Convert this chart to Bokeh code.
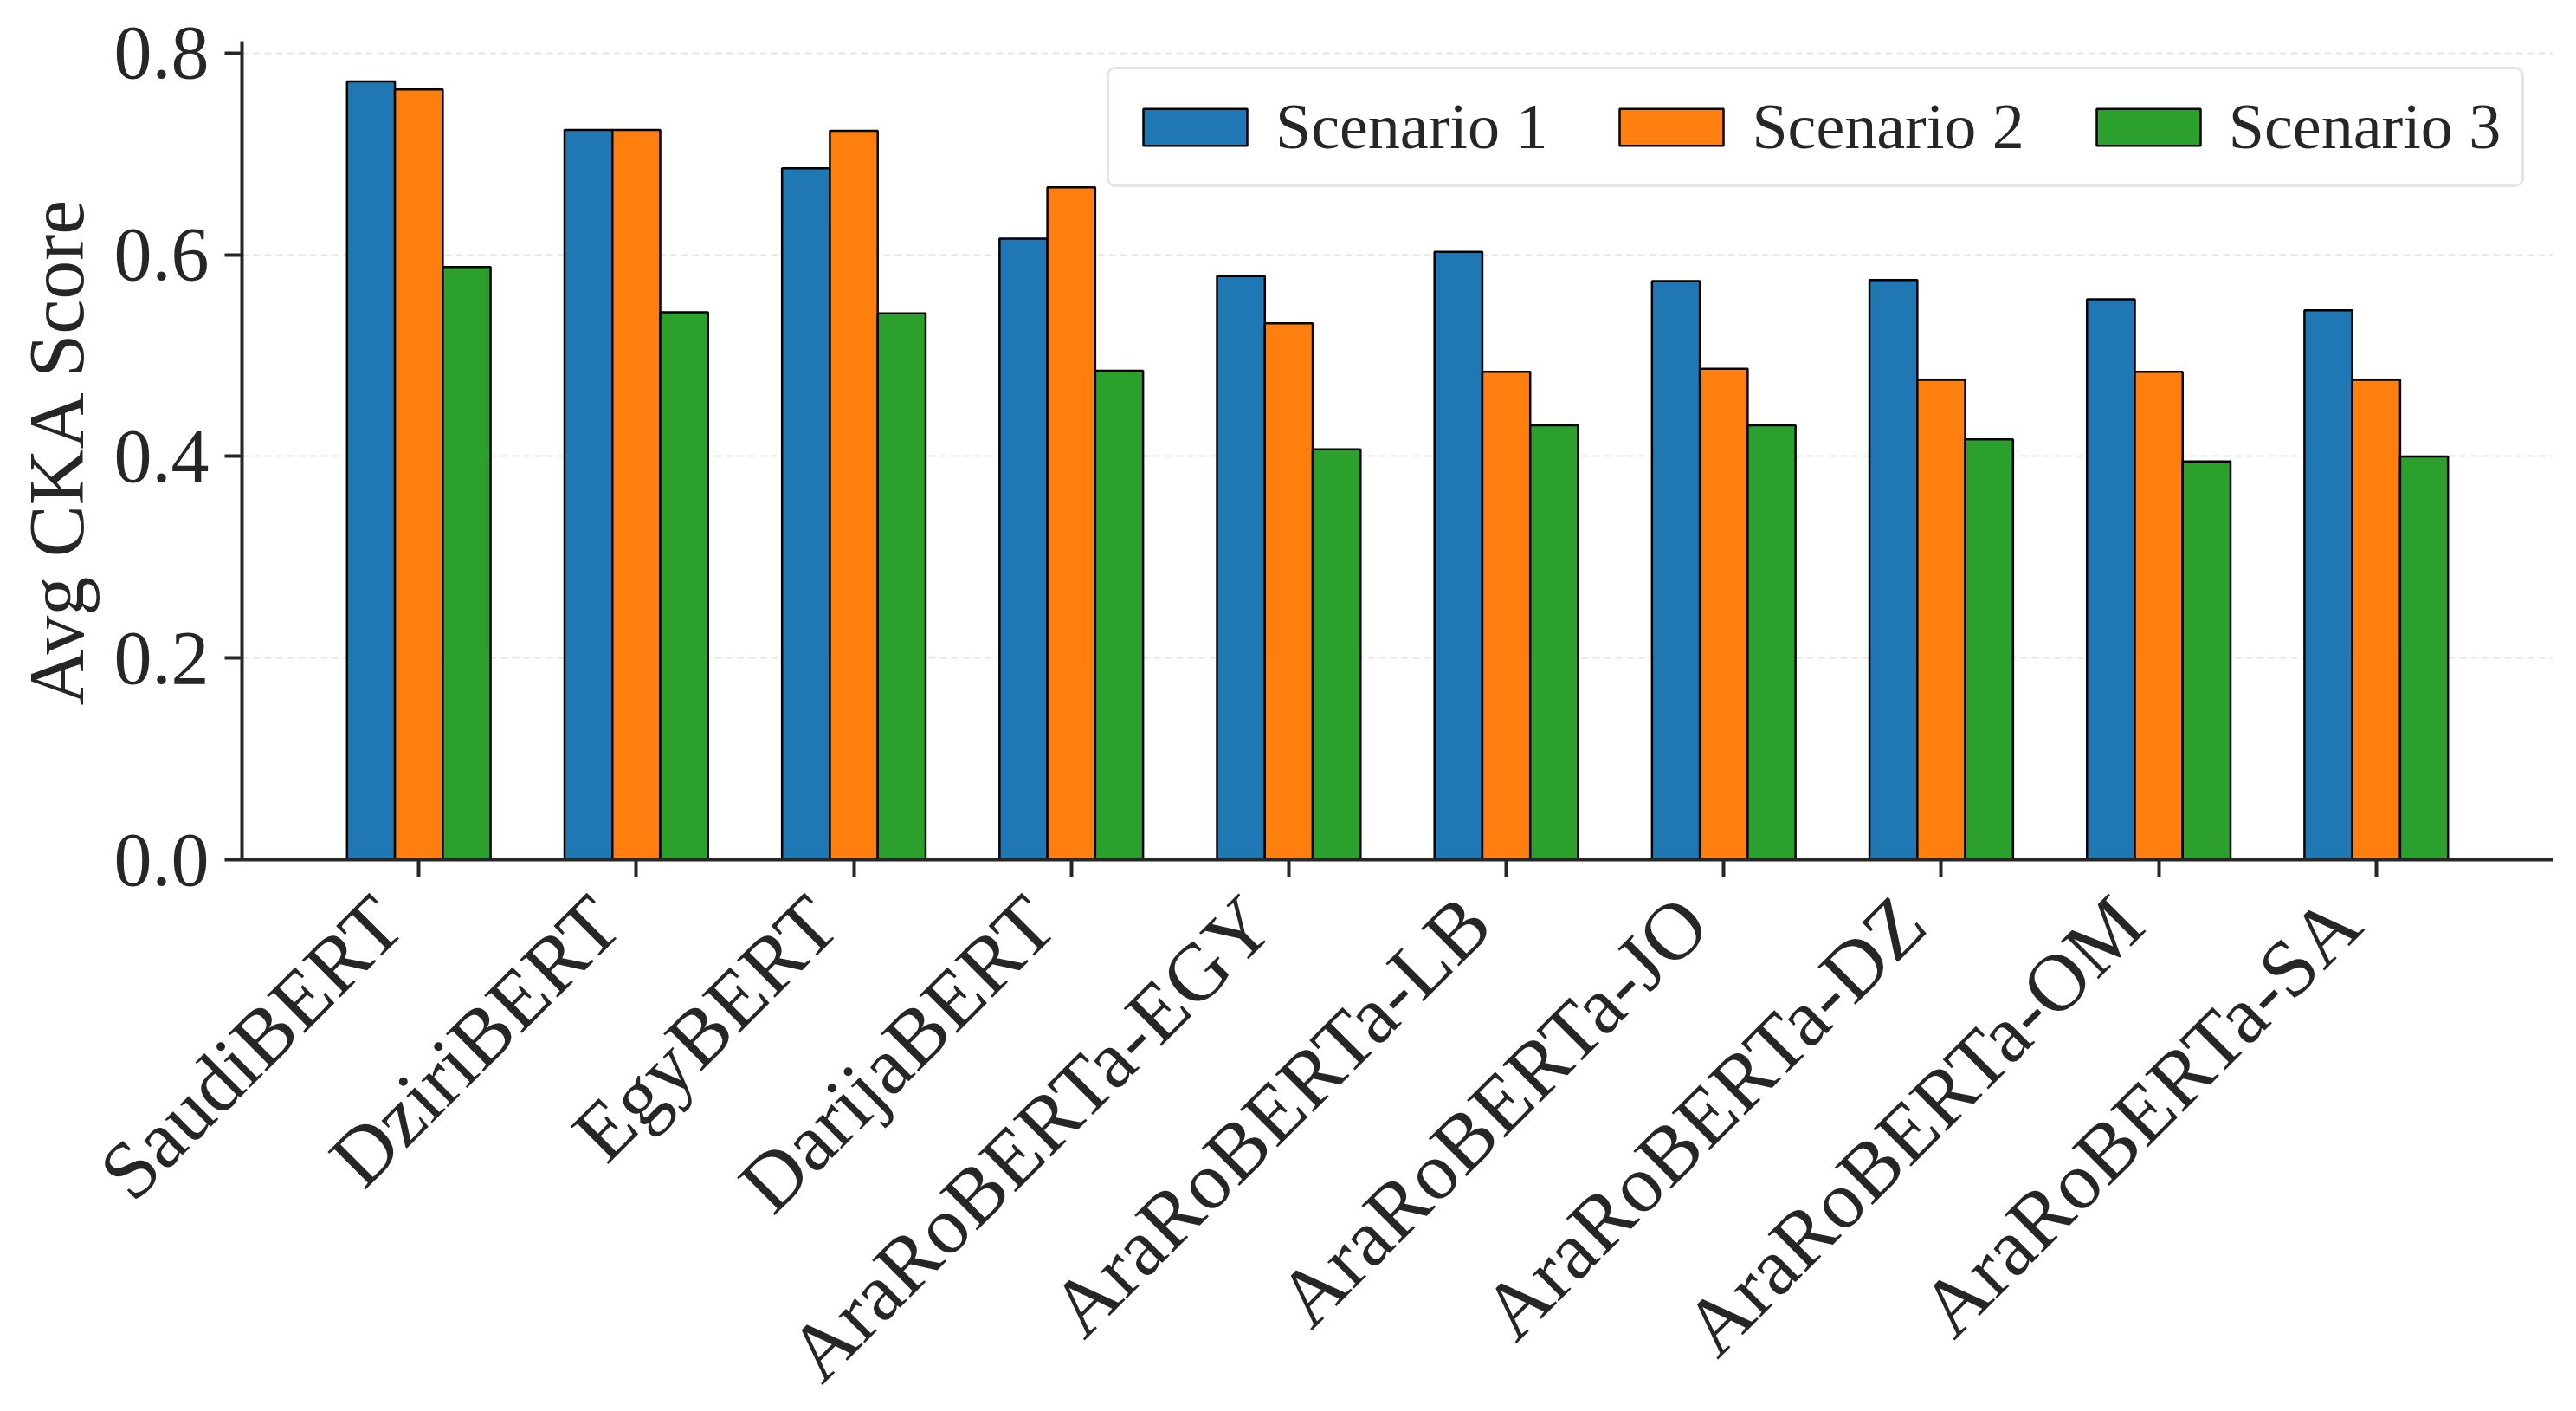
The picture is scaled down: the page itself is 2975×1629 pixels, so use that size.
import math
from bokeh.plotting import figure
from bokeh.models import Range1d, FixedTicker, NumeralTickFormatter, Legend, LegendItem
from bokeh.embed import file_html
from bokeh.resources import INLINE

models = ["SaudiBERT", "DziriBERT", "EgyBERT", "DarijaBERT", "AraRoBERTa-EGY",
          "AraRoBERTa-LB", "AraRoBERTa-JO", "AraRoBERTa-DZ", "AraRoBERTa-OM", "AraRoBERTa-SA"]
scenario1 = [0.772, 0.724, 0.686, 0.616, 0.579, 0.603, 0.574, 0.575, 0.556, 0.545]
scenario2 = [0.764, 0.724, 0.723, 0.667, 0.532, 0.484, 0.487, 0.476, 0.484, 0.476]
scenario3 = [0.588, 0.543, 0.542, 0.485, 0.407, 0.431, 0.431, 0.417, 0.395, 0.400]
series_names = ["Scenario 1", "Scenario 2", "Scenario 3"]
colors = ["#1f77b4", "#ff7f0e", "#2ca02c"]
y_ticks = [0.0, 0.2, 0.4, 0.6, 0.8]

FONT = "Liberation Serif"
TXT = "#262626"
bar_w = 0.22
label_shift = 0.14  # rotated labels end left of their tick (ha='right' look)

p = figure(frame_width=2669, frame_height=945, output_backend="svg", toolbar_location=None,
           x_range=Range1d(-0.813, 9.813), y_range=Range1d(0, 0.812),
           min_border_left=279, min_border_right=27, min_border_top=47, min_border_bottom=10)
p.outline_line_color = None
p.background_fill_color = "white"
p.border_fill_color = "white"

idx = list(range(len(models)))
renderers = []
for k, (vals, col) in enumerate(zip([scenario1, scenario2, scenario3], colors)):
    xs = [i + (k - 1) * bar_w for i in idx]
    r = p.vbar(x=xs, top=vals, bottom=0, width=bar_w, fill_color=col,
               line_color="black", line_width=2.5)
    renderers.append(r)

for ax in (p.xaxis[0], p.yaxis[0]):
    ax.axis_line_color = TXT
    ax.axis_line_width = 4
    ax.major_tick_line_color = TXT
    ax.major_tick_line_width = 4
    ax.major_tick_out = 20
    ax.major_tick_in = 0
    ax.minor_tick_line_color = None
    ax.major_label_text_font = FONT
    ax.major_label_text_color = TXT

p.yaxis.ticker = FixedTicker(ticks=y_ticks)
p.yaxis.formatter = NumeralTickFormatter(format="0.0")
p.yaxis.major_label_text_font_size = "88px"
p.yaxis.major_label_standoff = 18
p.yaxis.axis_label = "Avg CKA Score"
p.yaxis.axis_label_text_font = FONT
p.yaxis.axis_label_text_font_size = "90px"
p.yaxis.axis_label_text_font_style = "normal"
p.yaxis.axis_label_text_color = TXT
p.yaxis.axis_label_standoff = 14

label_pos = [i - label_shift for i in idx]
p.xaxis.ticker = FixedTicker(ticks=label_pos, minor_ticks=idx)
p.xaxis.major_label_overrides = {pos: m for pos, m in zip(label_pos, models)}
p.xaxis.major_label_orientation = math.pi / 4
p.xaxis.major_label_text_font_size = "94px"
p.xaxis.major_label_standoff = 38
p.xaxis.major_tick_line_color = None
p.xaxis.minor_tick_line_color = TXT
p.xaxis.minor_tick_line_width = 4
p.xaxis.minor_tick_out = 20
p.xaxis.minor_tick_in = 0

p.xgrid.grid_line_color = None
p.ygrid.ticker = FixedTicker(ticks=y_ticks)
p.ygrid.grid_line_color = "#e5e5e5"
p.ygrid.grid_line_width = 2
p.ygrid.grid_line_dash = "8 5"

legend = Legend(items=[LegendItem(label=n, renderers=[r]) for n, r in zip(series_names, renderers)],
                orientation="horizontal", location=(999, 776),
                glyph_width=150, glyph_height=53, label_standoff=18, spacing=68, padding=24,
                label_text_font=FONT, label_text_font_size="74px", label_text_color=TXT,
                border_line_color="#cccccc", border_line_width=3, border_radius=10,
                background_fill_color="white", background_fill_alpha=0.8)
p.add_layout(legend)

open("out.html", "w").write(file_html(p, INLINE))
